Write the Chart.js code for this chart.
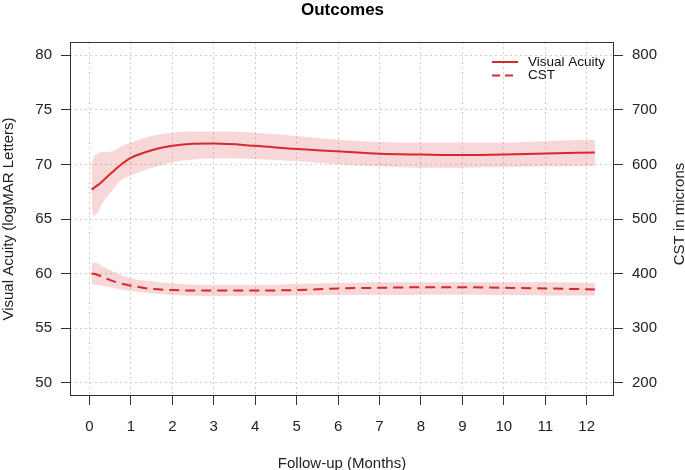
<!DOCTYPE html>
<html lang="en">

<head>
    <meta charset="UTF-8" />
    <title>Outcomes</title>
    <script src="https://cdn.jsdelivr.net/npm/chart.js"></script>
    <style>
        body {
            margin: 0;
            background: #ffffff;
        }

        #wrap {
            width: 685px;
            height: 470px;
        }
    </style>
</head>

<body>
    <div id="wrap">
        <canvas id="outcomes" width="685" height="470"></canvas>
    </div>

    <script>
        // follow-up months (shared by lines and bands)
        const months = [0.05, 0.1, 0.2, 0.3, 0.5, 0.75, 1, 1.5, 2, 2.5, 3, 4, 5, 6, 7, 8, 9, 10, 11, 12.2];

        // visual acuity (left axis)
        const vaMean  = [67.7, 67.82, 68.1, 68.42, 69.12, 69.95, 70.6, 71.3, 71.7, 71.88, 71.9, 71.7, 71.4, 71.2, 70.97, 70.9, 70.85, 70.9, 71.0, 71.08];
        const vaUpper = [69.9, 70.6, 71.0, 71.1, 71.15, 71.6, 72.0, 72.6, 72.9, 73.0, 73.0, 72.9, 72.6, 72.25, 72.05, 72.0, 72.0, 72.0, 72.15, 72.25];
        const vaLower = [66.3, 65.3, 65.6, 66.4, 67.4, 68.5, 69.0, 69.7, 70.2, 70.45, 70.55, 70.5, 70.3, 70.0, 69.8, 69.7, 69.7, 69.75, 69.8, 69.85];

        // central subfield thickness (right axis)
        const cstMean  = [400, 400, 397.5, 394.5, 388, 382, 378, 372, 370, 369, 369, 369, 370, 373, 374, 375, 375, 374, 373, 371];
        const cstUpper = [415, 421, 419, 414, 406, 398, 391, 386, 382, 380, 379, 379, 381, 383, 384, 384, 384, 384, 384, 383];
        const cstLower = [381, 380, 379, 378, 375, 371, 368, 364, 361, 359.5, 359, 359.5, 360, 361, 361, 361.5, 361.5, 361, 360, 360];

        // ticks
        const xTicks = [0, 1, 2, 3, 4, 5, 6, 7, 8, 9, 10, 11, 12];
        const vaTicks = [50, 55, 60, 65, 70, 75, 80];
        const cstTicks = [200, 300, 400, 500, 600, 700, 800];

        const RED = '#d42a2f';
        const BAND = 'rgba(214, 40, 45, 0.19)';
        const FONT = 'Liberation Sans, Arial, sans-serif';

        const pts = (ys) => months.map((m, i) => ({ x: m, y: ys[i] }));

        // frame around plot region, legend in the top right corner,
        // and the right axis title (reads bottom to top like the left one)
        const boxAndLegend = {
            id: 'boxAndLegend',
            afterDraw(chart) {
                const { ctx, chartArea: a } = chart;
                ctx.save();
                ctx.strokeStyle = '#333';
                ctx.lineWidth = 1;
                ctx.strokeRect(a.left + 0.5, a.top + 0.5, a.right - a.left - 1, a.bottom - a.top - 1);

                const x0 = a.right - 122, x1 = a.right - 96;
                const rows = [{ label: 'Visual Acuity', dash: [] }, { label: 'CST', dash: [8, 5] }];
                ctx.font = '13.5px ' + FONT;
                ctx.textBaseline = 'middle';
                rows.forEach((r, i) => {
                    const y = a.top + 20 + i * 13.5;
                    ctx.strokeStyle = RED;
                    ctx.lineWidth = 2;
                    ctx.setLineDash(r.dash);
                    ctx.beginPath();
                    ctx.moveTo(x0, y);
                    ctx.lineTo(x1, y);
                    ctx.stroke();
                    ctx.setLineDash([]);
                    ctx.fillStyle = '#111';
                    ctx.fillText(r.label, x1 + 10, y);
                });

                ctx.translate(chart.width - 5, (a.top + a.bottom) / 2 - 5);
                ctx.rotate(-Math.PI / 2);
                ctx.font = '15px ' + FONT;
                ctx.fillStyle = '#222';
                ctx.textAlign = 'center';
                ctx.fillText('CST in microns', 0, 0);
                ctx.restore();
            }
        };

        const gridCommon = {
            color: '#cfcfcf',
            lineWidth: 1,
            tickColor: '#333',
            tickLength: 9,
            tickWidth: 1
        };

        new Chart(document.getElementById('outcomes'), {
            type: 'line',
            data: {
                datasets: [
                    {
                        label: 'Visual Acuity', data: pts(vaMean), yAxisID: 'y',
                        borderColor: RED, borderWidth: 2, fill: false, order: 0
                    },
                    {
                        label: 'CST', data: pts(cstMean), yAxisID: 'y2',
                        borderColor: RED, borderWidth: 2, borderDash: [10, 6], fill: false, order: 0
                    },
                    {
                        label: 'va upper', data: pts(vaUpper), yAxisID: 'y',
                        borderWidth: 0, borderColor: 'transparent', fill: false, order: 1
                    },
                    {
                        label: 'va lower', data: pts(vaLower), yAxisID: 'y',
                        borderWidth: 0, borderColor: 'transparent', backgroundColor: BAND, fill: '-1', order: 1
                    },
                    {
                        label: 'cst upper', data: pts(cstUpper), yAxisID: 'y2',
                        borderWidth: 0, borderColor: 'transparent', fill: false, order: 1
                    },
                    {
                        label: 'cst lower', data: pts(cstLower), yAxisID: 'y2',
                        borderWidth: 0, borderColor: 'transparent', backgroundColor: BAND, fill: '-1', order: 1
                    }
                ]
            },
            options: {
                responsive: false,
                animation: false,
                devicePixelRatio: 1,
                layout: { padding: 0 },
                elements: {
                    point: { radius: 0, hoverRadius: 0 },
                    line: { cubicInterpolationMode: 'monotone' }
                },
                plugins: {
                    legend: { display: false },
                    tooltip: { enabled: false },
                    title: {
                        display: true,
                        text: 'Outcomes',
                        color: '#000',
                        font: { family: FONT, size: 17, weight: 'bold' },
                        padding: { top: 0, bottom: 21.6 }
                    }
                },
                scales: {
                    x: {
                        type: 'linear',
                        min: -0.47,
                        max: 12.66,
                        afterBuildTicks: s => { s.ticks = xTicks.map(v => ({ value: v })); },
                        afterFit: s => { s.height = 74; },
                        grid: gridCommon,
                        border: { display: false, dash: [2, 3] },
                        ticks: {
                            color: '#222', padding: 13, maxRotation: 0, autoSkip: false,
                            font: { family: FONT, size: 15 }
                        },
                        title: {
                            display: true, text: 'Follow-up (Months)', color: '#222',
                            font: { family: FONT, size: 15 }, padding: { top: 0, bottom: -3 }
                        }
                    },
                    y: {
                        position: 'left',
                        min: 48.8,
                        max: 81.2,
                        afterBuildTicks: s => { s.ticks = vaTicks.map(v => ({ value: v })); },
                        afterFit: s => { s.width = 70; },
                        grid: gridCommon,
                        border: { display: false, dash: [2, 3] },
                        ticks: { color: '#222', padding: 9, font: { family: FONT, size: 15 } },
                        title: {
                            display: true, text: 'Visual Acuity (logMAR Letters)', color: '#222',
                            font: { family: FONT, size: 15 }, padding: { top: 0, bottom: 0 }
                        }
                    },
                    y2: {
                        position: 'right',
                        min: 176,
                        max: 824,
                        afterBuildTicks: s => { s.ticks = cstTicks.map(v => ({ value: v })); },
                        afterFit: s => { s.width = 71; },
                        grid: { ...gridCommon, drawOnChartArea: false },
                        border: { display: false },
                        ticks: { color: '#222', padding: 9, font: { family: FONT, size: 15 } }
                    }
                }
            },
            plugins: [boxAndLegend]
        });
    </script>
</body>

</html>
